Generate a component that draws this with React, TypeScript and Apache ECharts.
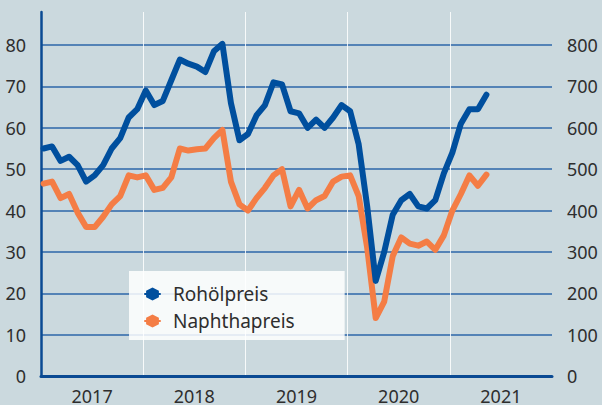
import React, { useEffect, useRef } from "react";
import * as echarts from "echarts";

const years = ["2017", "2018", "2019", "2020", "2021"];
const leftTicks = [0, 10, 20, 30, 40, 50, 60, 70, 80];
const rightTicks = [0, 100, 200, 300, 400, 500, 600, 700, 800];

// Monthly values, Jan 2017 – May 2021
const crudeOil = [
  55, 55.5, 52, 53, 51, 47, 48.5, 51, 55, 57.5, 62.5, 64.5,
  69, 65.5, 66.5, 71.5, 76.5, 75.5, 74.8, 73.5, 78.5, 80.3, 66, 57,
  58.5, 63, 65.5, 71, 70.5, 64, 63.5, 60, 62, 60, 62.5, 65.5,
  64, 56, 41, 23, 30, 39, 42.5, 44, 41, 40.5, 42.5, 49,
  54, 61, 64.5, 64.5, 68,
];
const naphtha = [
  465, 470, 430, 440, 395, 360, 360, 385, 415, 435, 485, 480,
  485, 450, 455, 480, 550, 545, 548, 550, 575, 595, 470, 415,
  400, 430, 455, 485, 500, 410, 450, 405, 425, 435, 470, 482,
  485, 435, 310, 140, 180, 290, 335, 320, 315, 325, 305, 340,
  400, 440, 485, 460, 487,
];

const HEX = "path://M50,0 L93.3,25 L93.3,75 L50,100 L6.7,75 L6.7,25 Z";
const FONT = "'Noto Sans', sans-serif";
const TEXT = "#2e2e2e";

export default function App() {
  const ref = useRef<HTMLDivElement>(null);
  useEffect(() => {
    if (!ref.current) return;
    const chart = echarts.init(ref.current, undefined, { renderer: "svg" });
    const off = 0.3;
    chart.setOption({
      animation: false,
      backgroundColor: "#cbd9de",
      textStyle: { fontFamily: FONT },
      grid: { left: 41, right: 50, top: 12, bottom: 28 },
      legend: {
        data: ["Rohölpreis", "Naphthapreis"],
        orient: "vertical",
        left: 129,
        top: 271,
        width: 215,
        padding: [13, 50, 9, 15],
        itemWidth: 15,
        itemHeight: 16,
        itemGap: 7,
        backgroundColor: "rgba(255,255,255,0.85)",
        textStyle: { fontSize: 19, color: TEXT, lineHeight: 20, padding: [0, 0, 0, 8], fontFamily: FONT },
      },
      xAxis: [
        {
          type: "value",
          min: 0,
          max: 60,
          interval: 12,
          axisLabel: { show: false },
          axisTick: { show: false },
          axisLine: { show: true, lineStyle: { color: "#0a4a93", width: 3 } },
          splitLine: {
            show: true,
            showMinLine: false,
            showMaxLine: false,
            lineStyle: { color: "rgba(255,255,255,0.85)", width: 1 },
          },
        },
        {
          type: "category",
          data: years,
          position: "bottom",
          boundaryGap: true,
          axisLine: { show: false },
          axisTick: { show: false },
          splitLine: { show: false },
          axisLabel: { fontSize: 18, lineHeight: 16, color: TEXT, margin: 12, fontFamily: FONT },
        },
      ],
      yAxis: [
        {
          type: "value",
          min: 0,
          max: 88,
          interval: 10,
          axisLine: { show: true, lineStyle: { color: "#0a4a93", width: 2.5 } },
          axisTick: { show: false },
          axisLabel: {
            fontSize: 18,
            color: TEXT,
            margin: 15,
            fontFamily: FONT,
            formatter: (v: number) => (leftTicks.includes(v) ? String(v) : ""),
          },
          splitLine: {
            show: true,
            showMaxLine: false,
            lineStyle: { color: "#2d66a8", width: 1.5 },
          },
        },
        {
          type: "value",
          min: 0,
          max: 880,
          interval: 100,
          position: "right",
          axisLine: { show: false },
          axisTick: { show: false },
          axisLabel: {
            fontSize: 18,
            color: TEXT,
            margin: 15,
            fontFamily: FONT,
            formatter: (v: number) => (rightTicks.includes(v) ? String(v) : ""),
          },
          splitLine: { show: false },
        },
      ],
      series: [
        {
          name: "Naphthapreis",
          type: "line",
          xAxisIndex: 0,
          yAxisIndex: 1,
          data: naphtha.map((v, i) => [i + off, v]),
          showSymbol: false,
          symbol: HEX,
          itemStyle: { color: "#f47d45" },
          lineStyle: { color: "#f47d45", width: 6, join: "round", cap: "round" },
        },
        {
          name: "Rohölpreis",
          type: "line",
          xAxisIndex: 0,
          yAxisIndex: 0,
          data: crudeOil.map((v, i) => [i + off, v]),
          showSymbol: false,
          symbol: HEX,
          itemStyle: { color: "#004f9e" },
          lineStyle: { color: "#004f9e", width: 6, join: "round", cap: "round" },
        },
      ],
    });
    return () => chart.dispose();
  }, []);
  return <div ref={ref} style={{ width: 602, height: 405, position: "absolute", left: 0, top: 0 }} />;
}
